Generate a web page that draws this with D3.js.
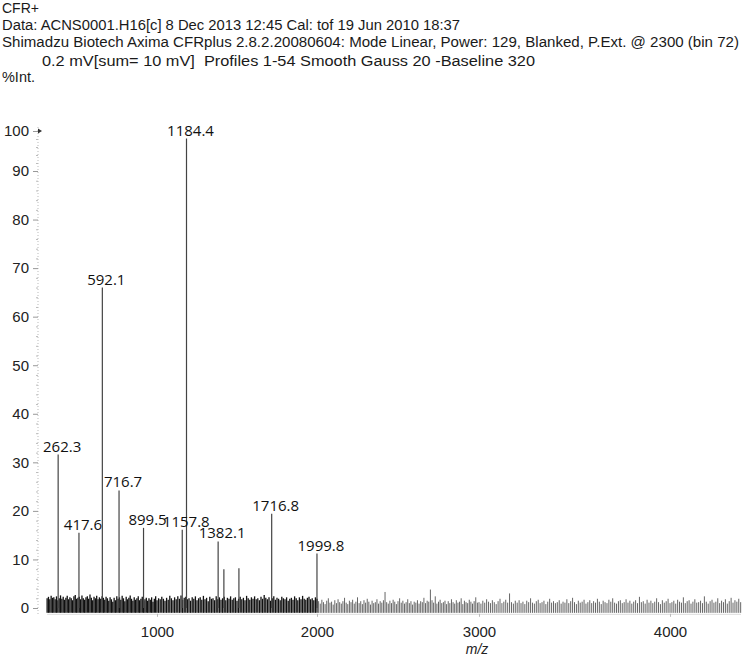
<!DOCTYPE html>
<html><head><meta charset="utf-8">
<script src="https://cdn.jsdelivr.net/npm/d3@7"></script>
<style>body{margin:0;background:#fff} svg{display:block}</style>
</head><body>
<svg id="c" width="742" height="656"></svg>
<script>
// ---------- data ----------
const headerLines = [
  "CFR+",
  "Data: ACNS0001.H16[c] 8 Dec 2013 12:45 Cal: tof 19 Jun 2010 18:37",
  "Shimadzu Biotech Axima CFRplus 2.8.2.20080604: Mode Linear, Power: 129, Blanked, P.Ext. @ 2300 (bin 72)",
  "0.2 mV[sum= 10 mV]  Profiles 1-54 Smooth Gauss 20 -Baseline 320",
  "%Int."
];
const peakMz     = [262.3, 417.6, 592.1, 716.7, 899.5, 1157.8, 1184.4, 1382.1, 1716.8, 1999.8];
const peakInt    = [31.6, 15.5, 66.0, 24.2, 16.5, 16.1, 98.1, 13.7, 19.4, 11.2];
const peakLabels = ["262.3","417.6","592.1","716.7","899.5","1157.8","1184.4","1382.1","1716.8","1999.8"];
const minorPeakMz  = [1418, 1512];
const minorPeakInt = [8.0, 8.2];
const noiseStartMz = 180, noiseStepMz = 10;
const noiseFloor = -1.0;
const noiseLeft = [ // m/z 180 .. 2000
  2.0,2.3,1.8,2.5,2.1,
  2.2,1.8,2.4,1.6,2.0,2.6,1.9,2.3,1.7,2.1,2.5,1.8,2.2,2.0,1.6,2.4,2.7,1.9,2.1,2.3,
  1.8,2.6,2.0,1.7,2.2,2.4,1.9,2.8,2.1,1.6,2.3,2.0,2.5,1.8,2.2,1.9,2.4,2.1,1.7,2.3,
  2.0,1.5,2.2,1.8,1.3,2.1,1.6,2.4,1.9,2.2,1.7,2.5,2.0,1.4,2.3,1.8,2.1,2.6,1.9,1.5,
  2.2,1.7,2.0,2.4,1.6,1.9,2.3,1.4,1.8,2.1,1.5,2.0,1.7,2.2,1.3,1.9,2.4,1.6,2.0,1.8,
  2.3,1.9,1.5,2.1,1.7,2.5,2.0,1.6,2.2,1.8,2.4,1.9,2.6,1.7,2.1,2.3,1.8,2.0,1.5,2.2,
  1.9,2.4,1.6,2.0,2.2,1.7,2.5,1.8,2.1,1.4,2.3,1.9,2.0,1.6,2.4,1.8,2.2,1.7,2.0,2.3,
  1.6,2.1,1.9,2.4,1.7,2.0,2.2,1.5,1.9,2.3,1.8,2.1,1.6,2.5,2.0,1.7,2.2,1.9,2.4,1.8,
  2.0,1.6,2.3,1.9,2.7,2.1,1.8,2.2,1.5,2.0,2.4,1.7,2.1,1.9,1.6,2.3,2.0,1.8,2.2,1.5,
  1.9,2.1,1.7,2.4,2.0,1.6,2.2,1.8,2.5,1.9,1.7,2.1,2.3,1.8,2.0,1.6,2.2,1.9
];
const noiseRight = [ // m/z 2010 .. 4370
  1.4,0.9,1.7,1.2,0.8,1.5,2.0,1.1,1.3,0.7,1.6,1.0,1.8,1.2,0.9,1.4,2.1,1.1,0.8,1.5,
  1.2,1.7,0.9,1.3,2.2,1.0,1.4,0.8,1.6,1.1,1.9,1.3,0.7,1.5,1.0,1.2,1.8,0.9,1.4,1.1,
  1.6,3.3,1.2,0.9,1.5,1.0,1.7,1.3,0.8,1.4,2.0,1.1,1.5,0.9,1.2,1.8,1.0,1.4,0.7,1.3,
  1.1,1.6,0.9,1.4,1.2,2.1,1.0,1.5,1.3,3.8,1.6,1.1,2.4,0.9,1.3,1.7,1.0,1.2,1.5,0.8,
  1.4,1.0,1.8,1.2,0.9,1.6,1.1,1.3,2.0,0.8,1.5,1.2,1.0,1.7,1.3,0.9,1.4,2.2,1.1,1.2,
  0.9,1.5,1.1,1.8,1.3,1.0,1.6,1.2,0.8,1.4,1.9,1.0,1.3,1.7,1.1,3.0,1.2,0.9,1.5,1.1,
  1.6,1.0,1.3,0.8,1.5,1.2,2.0,1.1,0.9,1.4,1.7,1.0,1.2,1.5,0.8,1.3,1.9,1.1,1.4,1.0,
  1.2,1.6,0.9,1.3,1.1,1.8,1.0,1.4,2.1,1.2,0.8,1.5,1.1,1.3,1.7,0.9,1.2,1.6,1.0,1.4,
  1.1,1.9,1.3,0.8,1.5,1.2,1.0,1.7,1.3,2.0,1.1,0.9,1.4,1.6,1.0,1.2,1.8,1.1,1.5,0.9,
  1.3,1.6,1.0,2.3,1.2,1.4,0.9,1.7,1.1,1.5,1.0,1.3,2.0,1.2,0.8,1.6,1.1,1.4,1.9,1.0,
  1.2,1.5,0.9,1.7,1.3,1.1,2.2,1.0,1.4,1.6,0.9,1.3,1.8,1.1,1.2,1.5,1.0,2.4,1.3,0.9,
  1.4,1.7,1.1,1.3,2.0,1.0,1.5,1.2,1.8,0.9,1.4,2.1,1.1,1.6,1.3,1.9,1.2
];
const yTicks = [0,10,20,30,40,50,60,70,80,90,100];
const xTicks = [1000,2000,3000,4000];
const xLabel = "m/z";

// ---------- layout ----------
const svg = d3.select("#c");
const FONT = "'Liberation Sans', Arial, sans-serif";
const x = d3.scaleLinear().domain([0,1000,2000,3000,4000]).range([23,157,317,479,670]);
const y = d3.scaleLinear().domain([0,90,100]).range([608,171,131]);

// header
const hdr = [
  {x:2, y:13, len:37},
  {x:2, y:30, len:458},
  {x:2, y:47, len:737},
  {x:42, y:66, len:493},
  {x:2, y:82, len:33}
];
svg.append("g").selectAll("text").data(headerLines).join("text")
  .attr("x",(d,i)=>hdr[i].x).attr("y",(d,i)=>hdr[i].y)
  .attr("textLength",(d,i)=>hdr[i].len).attr("lengthAdjust","spacingAndGlyphs")
  .style("white-space","pre")
  .attr("font-family",FONT).attr("font-size",14)
  .attr("fill","#1a1a1a").text(d=>d);

// y axis (dotted line + ticks)
const yAx = svg.append("g").attr("transform","translate(38,0)");
yAx.append("line").attr("y1",y(101)).attr("y2",y(-1.5)).attr("stroke","#bbb")
  .attr("stroke-dasharray","1,2");
const yAxis = d3.axisLeft(y).tickValues(yTicks).tickSize(5).tickPadding(4).tickFormat(d3.format("d"));
const yg = yAx.append("g").call(yAxis);
yg.select(".domain").remove();
yg.selectAll(".tick line").attr("stroke","#999");
yg.selectAll(".tick text").attr("font-family",FONT).attr("font-size",15).attr("fill","#222");
const yMinor = d3.axisLeft(y).tickValues(d3.range(0,100,2).filter(v=>v%10)).tickSize(2).tickFormat("");
const ym = yAx.append("g").call(yMinor);
ym.select(".domain").remove();
ym.selectAll(".tick line").attr("stroke","#bbb");
yAx.append("path").attr("d",`M0,${y(100)-2.5}L4,${y(100)}L0,${y(100)+2.5}Z`).attr("fill","#333");

// x axis
const xAx = svg.append("g").attr("transform",`translate(0,${y(-1.2)})`);
const xAxis = d3.axisBottom(x).tickValues(xTicks).tickSize(3).tickPadding(10).tickFormat(d3.format("d"));
const xg = xAx.call(xAxis);
xg.select(".domain").attr("stroke","#ddd").attr("d",`M${x(180)},0.5H741`);
xg.selectAll(".tick line").attr("stroke","#bbb");
xg.selectAll(".tick text").attr("font-family",FONT).attr("font-size",15).attr("fill","#222");
svg.append("text").attr("x",x(3000)-2).attr("y",654).attr("text-anchor","middle")
  .attr("font-family",FONT).attr("font-size",14).attr("font-style","italic")
  .attr("fill","#222").text(xLabel);

// noise
const noiseVals = noiseLeft.concat(noiseRight);
const noise = noiseVals.map((v,i)=>({mz: noiseStartMz + i*noiseStepMz, v}));
svg.append("g").selectAll("line").data(noise).join("line")
  .attr("x1",d=>x(d.mz)).attr("x2",d=>x(d.mz))
  .attr("y1",y(noiseFloor)).attr("y2",d=>y(d.v))
  .attr("stroke",d=>d.mz<=2000?"#111":"#555")
  .attr("stroke-width",d=>d.mz<=2000?1.3:0.9);

// minor unlabeled peaks
svg.append("g").selectAll("line").data(minorPeakMz).join("line")
  .attr("x1",d=>x(d)).attr("x2",d=>x(d))
  .attr("y1",y(0)).attr("y2",(d,i)=>y(minorPeakInt[i]))
  .attr("stroke","#444").attr("stroke-width",1.2);

// labeled peaks
const pk = svg.append("g");
pk.selectAll("line").data(peakMz).join("line")
  .attr("x1",d=>x(d)).attr("x2",d=>x(d))
  .attr("y1",y(0)).attr("y2",(d,i)=>y(peakInt[i]))
  .attr("stroke","#444").attr("stroke-width",1.2);
pk.selectAll("text").data(peakMz).join("text")
  .attr("x",d=>x(d)+4).attr("y",(d,i)=>y(peakInt[i])-3)
  .attr("text-anchor","middle")
  .attr("font-family","'Open Sans', Lato, sans-serif").attr("font-size",15)
  .attr("fill","#111").text((d,i)=>peakLabels[i]);
</script>
</body></html>
